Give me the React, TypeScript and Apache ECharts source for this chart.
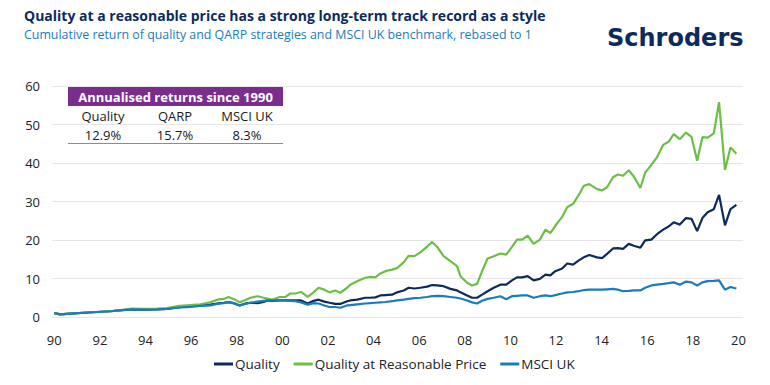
import React, { useEffect, useRef } from "react";
import * as echarts from "echarts";

const dates = [
  1990.0, 1990.26, 1990.7, 1991.29, 1991.87, 1992.46, 1992.97, 1993.41, 1993.92, 1994.5,
  1994.94, 1995.38, 1995.96, 1996.4, 1996.84, 1997.14, 1997.43, 1997.64, 1997.86, 1998.13,
  1998.38, 1998.6, 1998.92, 1999.18, 1999.33, 1999.55, 1999.88, 2000.13, 2000.35, 2000.57,
  2000.82, 2001.11, 2001.37, 2001.59, 2001.84, 2002.07, 2002.32, 2002.54, 2002.84, 2002.98,
  2003.28, 2003.64, 2003.86, 2004.08, 2004.3, 2004.52, 2004.81, 2005.03, 2005.32, 2005.54,
  2005.79, 2006.05, 2006.35, 2006.57, 2006.79, 2007.07, 2007.37, 2007.66, 2007.81, 2008.1,
  2008.32, 2008.54, 2008.76, 2009.0, 2009.27, 2009.56, 2009.82, 2010.07, 2010.29, 2010.51,
  2010.76, 2011.02, 2011.29, 2011.54, 2011.75, 2011.97, 2012.27, 2012.49, 2012.75, 2013.0,
  2013.22, 2013.46, 2013.8, 2014.02, 2014.24, 2014.5, 2014.71, 2014.94, 2015.19, 2015.41,
  2015.7, 2015.91, 2016.18, 2016.43, 2016.7, 2016.94, 2017.16, 2017.43, 2017.7, 2017.94,
  2018.19, 2018.42, 2018.65, 2018.92, 2019.15, 2019.41, 2019.65, 2019.91,
];

const quality = [
  1.0, 0.7, 0.9, 1.1, 1.3, 1.5, 1.8, 2.0, 1.9, 2.0,
  2.1, 2.5, 2.8, 3.0, 3.2, 3.5, 3.7, 3.9, 3.6, 3.0,
  3.5, 3.7, 3.6, 3.9, 4.3, 4.2, 4.3, 4.3, 4.3, 4.3,
  4.3, 3.5, 4.2, 4.5, 4.0, 3.7, 3.4, 3.4, 4.1, 4.3,
  4.5, 5.0, 5.0, 5.1, 5.6, 5.7, 5.8, 6.4, 6.9, 7.6,
  7.4, 7.6, 7.9, 8.3, 8.2, 8.0, 7.3, 6.9, 6.4, 5.6,
  5.0, 5.0, 5.8, 6.7, 7.6, 8.4, 8.4, 9.5, 10.3, 10.3,
  10.6, 9.5, 9.9, 11.0, 10.8, 11.9, 12.6, 13.9, 13.6, 14.7,
  15.5, 16.1, 15.5, 15.3, 16.4, 17.8, 17.9, 17.7, 19.0, 18.5,
  18.0, 19.9, 20.1, 21.5, 22.7, 23.5, 24.6, 24.0, 25.7, 25.5,
  22.3, 25.7, 27.2, 28.0, 31.7, 23.8, 28.0, 29.1,
];

const qarp = [
  1.0, 0.7, 0.9, 1.1, 1.3, 1.5, 1.8, 2.2, 2.1, 2.2,
  2.3, 2.8, 3.1, 3.3, 3.8, 4.5, 4.7, 5.2, 4.7, 3.8,
  4.4, 5.0, 5.4, 5.0, 4.8, 4.5, 5.2, 5.2, 6.1, 6.1,
  6.5, 5.2, 6.4, 7.6, 7.1, 6.4, 6.9, 6.3, 7.6, 8.4,
  9.3, 10.2, 10.4, 10.3, 11.3, 11.9, 12.3, 12.7, 14.2, 15.9,
  15.8, 16.8, 18.3, 19.5, 18.2, 15.8, 14.5, 13.2, 10.6, 8.9,
  8.2, 8.6, 11.9, 15.2, 15.8, 16.5, 16.2, 18.2, 20.1, 20.1,
  21.1, 19.0, 20.1, 22.7, 21.8, 23.7, 26.0, 28.5, 29.4, 31.7,
  34.1, 34.5, 33.2, 32.9, 33.7, 36.3, 37.0, 36.7, 38.1, 36.5,
  33.5, 37.5, 39.5, 41.5, 44.7, 45.5, 47.5, 46.2, 47.9, 46.8,
  40.6, 46.7, 46.6, 47.7, 55.8, 38.2, 44.0, 42.4,
];

const msciUk = [
  1.0, 0.7, 0.9, 1.1, 1.3, 1.5, 1.8, 2.0, 1.9, 2.0,
  2.1, 2.4, 2.6, 2.9, 3.0, 3.4, 3.6, 3.8, 3.6, 3.0,
  3.4, 3.7, 4.0, 4.2, 4.3, 4.3, 4.4, 4.3, 4.2, 4.1,
  3.8, 3.2, 3.6, 3.5, 3.0, 2.6, 2.6, 2.4, 3.0, 3.1,
  3.3, 3.5, 3.6, 3.7, 3.8, 3.9, 4.1, 4.3, 4.5, 4.7,
  4.9, 5.0, 5.2, 5.4, 5.5, 5.4, 5.2, 5.0, 4.8, 4.3,
  3.8, 3.5, 4.2, 4.7, 5.0, 5.4, 4.6, 5.4, 5.5, 5.6,
  5.6, 5.0, 5.4, 5.6, 5.4, 5.7, 6.1, 6.4, 6.5, 6.7,
  7.0, 7.1, 7.1, 7.1, 7.2, 7.3, 7.1, 6.7, 6.8, 6.9,
  6.9, 7.6, 8.2, 8.4, 8.6, 8.8, 9.0, 8.4, 9.2, 9.0,
  8.2, 9.0, 9.3, 9.4, 9.5, 7.1, 7.8, 7.4,
];

const xTickYears = [1990, 1992, 1994, 1996, 1998, 2000, 2002, 2004, 2006, 2008, 2010, 2012, 2014, 2016, 2018, 2020];
const seriesNames = ["Quality", "Quality at Reasonable Price", "MSCI UK"];
const tableHeader = "Annualised returns since 1990";
const tableColumns = ["Quality", "QARP", "MSCI UK"];
const tableValues = ["12.9%", "15.7%", "8.3%"];

const FONT = "'Open Sans', 'Noto Sans', sans-serif";
const NAVY = "#0c2b5c";
const GREEN = "#6cbf45";
const BLUE = "#1a7cbd";

export default function App() {
  const ref = useRef<HTMLDivElement>(null);
  useEffect(() => {
    if (!ref.current) return;
    const chart = echarts.init(ref.current, null, { renderer: "svg" });
    const zip = (vals: number[]) => dates.map((d, i) => [d, vals[i]]);
    const colX = [103, 175, 247];
    const graphics: any[] = [
      {
        type: "text",
        left: 24,
        top: 8,
        style: {
          text: "Quality at a reasonable price has a strong long-term track record as a style",
          fill: NAVY,
          font: `bold 14px ${FONT}`,
        },
      },
      {
        type: "text",
        left: 24,
        top: 28,
        style: {
          text: "Cumulative return of quality and QARP strategies and MSCI UK benchmark, rebased to 1",
          fill: BLUE,
          font: `12.4px ${FONT}`,
        },
      },
      {
        type: "text",
        x: 607,
        y: 26,
        style: {
          text: "Schroders",
          fill: NAVY,
          font: `bold 24px 'DejaVu Sans', ${FONT}`,
        },
      },
      {
        type: "rect",
        shape: { x: 68, y: 87, width: 215, height: 19 },
        style: { fill: "#7b2d8e" },
      },
      {
        type: "text",
        x: 175.5,
        y: 96.5,
        style: {
          text: tableHeader,
          fill: "#ffffff",
          font: `bold 13px ${FONT}`,
          align: "center",
          verticalAlign: "middle",
        },
      },
      {
        type: "line",
        shape: { x1: 68, y1: 124.5, x2: 283, y2: 124.5 },
        style: { stroke: "#8c8c8c", lineWidth: 1 },
      },
      {
        type: "line",
        shape: { x1: 68, y1: 143.5, x2: 283, y2: 143.5 },
        style: { stroke: "#8c8c8c", lineWidth: 1 },
      },
    ];
    tableColumns.forEach((c, i) => {
      graphics.push({
        type: "text",
        x: colX[i],
        y: 116,
        style: { text: c, fill: "#1a1a1a", font: `13px ${FONT}`, align: "center", verticalAlign: "middle" },
      });
      graphics.push({
        type: "text",
        x: colX[i],
        y: 135,
        style: { text: tableValues[i], fill: "#1a1a1a", font: `13px ${FONT}`, align: "center", verticalAlign: "middle" },
      });
    });

    chart.setOption({
      animation: false,
      textStyle: { fontFamily: FONT },
      grid: { left: 52, right: 27, top: 86, bottom: 68, containLabel: false },
      legend: {
        data: seriesNames,
        top: 352,
        left: 209,
        icon: "rect",
        itemWidth: 19,
        itemHeight: 3,
        itemGap: 14,
        textStyle: { color: "#222", fontSize: 13.5, fontFamily: FONT, padding: [0, 0, 0, -3] },
      },
      xAxis: {
        type: "value",
        min: 1989.9,
        max: 2020.2,
        axisLine: { show: false },
        axisTick: { show: false },
        splitLine: { show: false },
        axisLabel: {
          customValues: xTickYears,
          color: "#222",
          fontSize: 13,
          margin: 16,
          formatter: (v: number) => String(Math.round(v) % 100).padStart(2, "0"),
        },
      },
      yAxis: {
        type: "value",
        min: 0,
        max: 60,
        interval: 10,
        axisLine: { show: false },
        axisTick: { show: false },
        splitLine: { lineStyle: { color: "#e6e6e6", width: 1 } },
        axisLabel: { color: "#222", fontSize: 13, margin: 12 },
      },
      series: [
        { name: seriesNames[0], type: "line", data: zip(quality), showSymbol: false, color: NAVY, lineStyle: { width: 2.2, color: NAVY } },
        { name: seriesNames[1], type: "line", data: zip(qarp), showSymbol: false, color: GREEN, lineStyle: { width: 2.2, color: GREEN } },
        { name: seriesNames[2], type: "line", data: zip(msciUk), showSymbol: false, color: BLUE, lineStyle: { width: 2.2, color: BLUE } },
      ],
      graphic: graphics,
    });
    return () => chart.dispose();
  }, []);
  return <div ref={ref} style={{ position: "fixed", left: 0, top: 0, width: 770, height: 385, background: "#fff" }} />;
}
